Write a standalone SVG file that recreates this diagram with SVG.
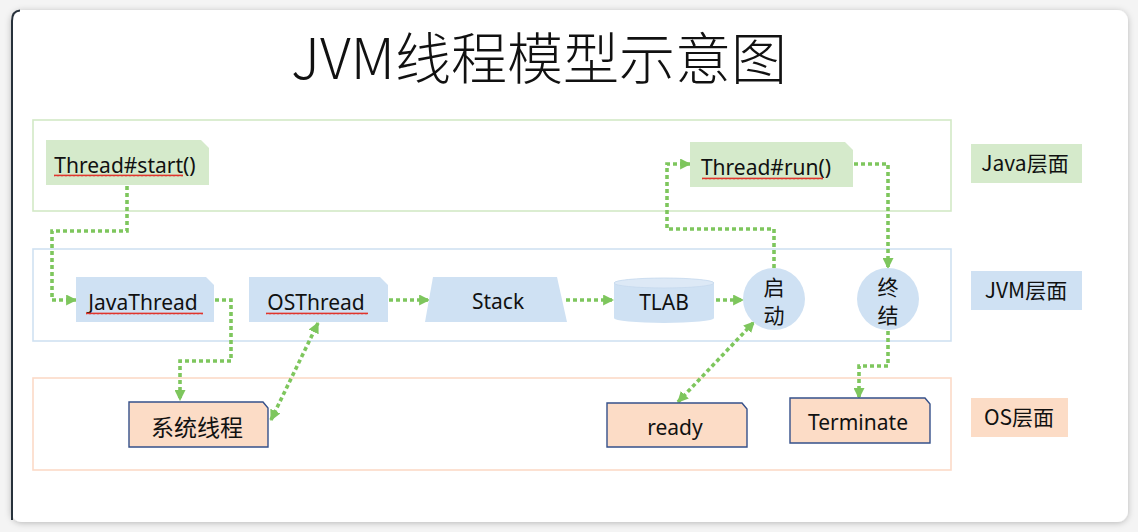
<svg xmlns="http://www.w3.org/2000/svg" width="1138" height="532" viewBox="0 0 1138 532">
<defs>
<style>
.layer{fill:none;stroke-width:1.6}
.green{fill:#d5eacb}
.blue{fill:#cfe1f3}
.orange{fill:#fcdcc6;stroke:#35508a;stroke-width:1.4}
.lbl{font-family:"Noto Sans","Noto Sans CJK SC",sans-serif;font-size:21px;fill:#111;text-anchor:middle}
.cjk{font-family:"Noto Sans CJK SC",sans-serif;font-size:21px;fill:#111;text-anchor:middle}
.big{font-size:23px}
.con{fill:none;stroke:#7ec65d;stroke-width:3.6;stroke-dasharray:4 3}
.sq{fill:url(#squiggle)}
</style>
<marker id="arr" viewBox="0 0 10 10" refX="9" refY="5" markerWidth="11" markerHeight="11" markerUnits="userSpaceOnUse" orient="auto-start-reverse">
<path d="M0,0 L10,5 L0,10 Z" fill="#7ec65d"/>
</marker>
<pattern id="squiggle" width="4" height="3" patternUnits="userSpaceOnUse">
<path d="M0,2.4 L1,0.6 L2,2.4 L3,0.6 L4,2.4" fill="none" stroke="#e0342c" stroke-width="1"/>
</pattern>
<filter id="shadow" x="-5%" y="-5%" width="110%" height="110%">
<feDropShadow dx="0" dy="1" stdDeviation="3" flood-color="#000" flood-opacity="0.25"/>
</filter>
</defs>
<rect x="0" y="0" width="1138" height="532" fill="#f4f4f4"/>
<rect x="11" y="10" width="1117" height="512" rx="11" fill="#ffffff" filter="url(#shadow)"/>
<path d="M12,520 V21 Q12,11 20,10.5" fill="none" stroke="#27313b" stroke-width="2"/>

<text x="539" y="79" font-family="'Noto Sans CJK SC',sans-serif" font-weight="300" font-size="56" fill="#111" text-anchor="middle">JVM线程模型示意图</text>

<g id="layers">
<rect class="layer" x="33" y="120" width="918" height="91" stroke="#d3e9c6"/>
<rect class="layer" x="33" y="249" width="918" height="92" stroke="#d0e1f2"/>
<rect class="layer" x="33" y="378" width="918" height="92" stroke="#fcdac7"/>
</g>

<g id="connectors">
<path class="con" d="M127,186 V231 H52 V300 H76" marker-end="url(#arr)"/>
<path class="con" d="M215,300 H231 V361 H180 V400" marker-end="url(#arr)"/>
<path class="con" d="M271,420 L318,323" marker-start="url(#arr)" marker-end="url(#arr)"/>
<path class="con" d="M389,300 H429" marker-end="url(#arr)"/>
<path class="con" d="M566,300 H613" marker-end="url(#arr)"/>
<path class="con" d="M716,300 H743" marker-end="url(#arr)"/>
<path class="con" d="M774,268 V229 H667 V164 H690" marker-end="url(#arr)"/>
<path class="con" d="M854,164 H888 V268" marker-end="url(#arr)"/>
<path class="con" d="M888,331 V366 H859 V398" marker-end="url(#arr)"/>
<path class="con" d="M678,402 L754,322" marker-start="url(#arr)" marker-end="url(#arr)"/>
</g>

<g id="thread-start">
<path class="green" d="M46,140 H201 L209,148 V185 H46 Z"/>
<text class="lbl" x="125" y="173">Thread#start()</text>
<rect class="sq" x="54" y="174" width="129" height="3"/>
</g>
<g id="thread-run">
<path class="green" d="M690,142 H845 L853,150 V187 H690 Z"/>
<text class="lbl" x="766" y="175">Thread#run()</text>
<rect class="sq" x="702" y="177" width="121" height="3"/>
</g>
<g id="javathread">
<path class="blue" d="M76,277 H206 L214,285 V322 H76 Z"/>
<text class="lbl" x="143" y="310">JavaThread</text>
<rect class="sq" x="86" y="312" width="117" height="3"/>
</g>
<g id="osthread">
<path class="blue" d="M249,277 H380 L388,285 V322 H249 Z"/>
<text class="lbl" x="316" y="310">OSThread</text>
<rect class="sq" x="266" y="312" width="102" height="3"/>
</g>
<g id="stack">
<path class="blue" d="M433,277 H557 L567,322 H425 Z"/>
<text class="lbl" x="498" y="309">Stack</text>
</g>
<g id="tlab">
<path class="blue" d="M614,283 A50,5 0 0 1 714,283 V318 A50,5 0 0 1 614,318 Z"/>
<ellipse cx="664" cy="283" rx="50" ry="5" fill="#dde9f6" stroke="#c6d9ee" stroke-width="0.8"/>
<text class="lbl" x="664" y="310">TLAB</text>
</g>
<g id="start">
<circle class="blue" cx="774" cy="299" r="31"/>
<text class="cjk" x="774" y="295">启</text>
<text class="cjk" x="774" y="323">动</text>
</g>
<g id="end">
<circle class="blue" cx="888" cy="299" r="31"/>
<text class="cjk" x="888" y="295">终</text>
<text class="cjk" x="888" y="323">结</text>
</g>
<g id="sys-thread">
<path class="orange" d="M129,402 H263 L268,408 V447 H129 Z"/>
<text class="cjk big" x="197" y="436">系统线程</text>
</g>
<g id="ready">
<path class="orange" d="M607,403 H742 L747,409 V447 H607 Z"/>
<text class="lbl" x="675" y="435">ready</text>
</g>
<g id="terminate">
<path class="orange" d="M790,398 H925 L930,404 V443 H790 Z"/>
<text class="lbl" x="858" y="430">Terminate</text>
</g>

<g id="legend-java">
<rect x="971" y="144" width="111" height="39" fill="#d5eacb"/>
<text class="cjk" x="1025" y="171">Java层面</text>
</g>
<g id="legend-jvm">
<rect x="971" y="271" width="111" height="39" fill="#cfe1f3"/>
<text class="cjk" x="1026" y="298">JVM层面</text>
</g>
<g id="legend-os">
<rect x="971" y="398" width="97" height="39" fill="#fcdcc6"/>
<text class="cjk" x="1019" y="425">OS层面</text>
</g>
</svg>
